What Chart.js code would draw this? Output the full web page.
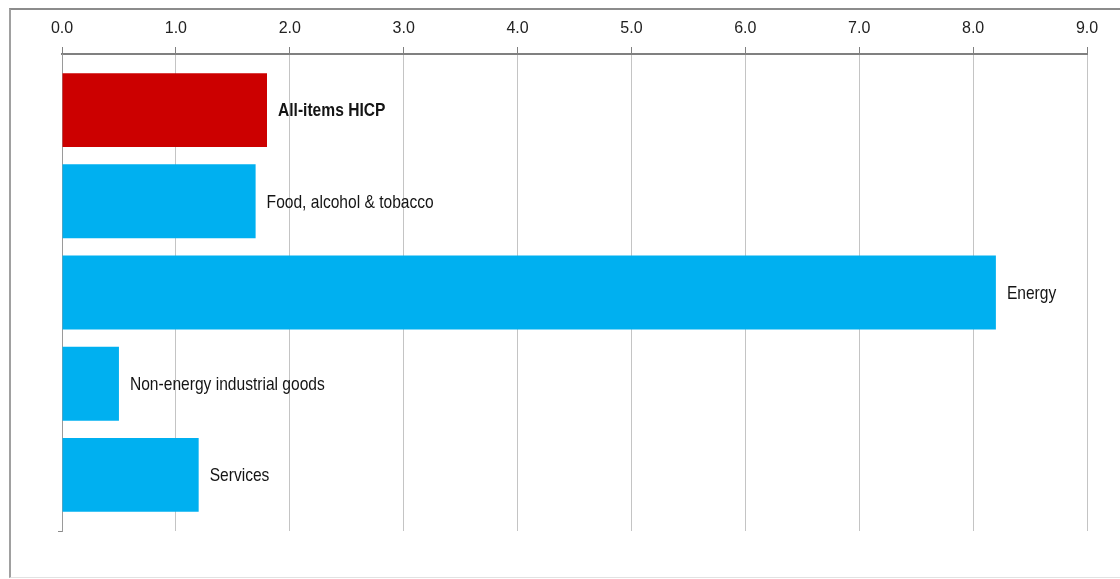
<!DOCTYPE html>
<html>
<head>
<meta charset="utf-8">
<title>HICP components</title>
<script src="https://cdn.jsdelivr.net/npm/chart.js@4/dist/chart.umd.min.js"></script>
<style>
  html,body{margin:0;padding:0;background:#fff;}
  #wrap{position:relative;width:1120px;height:579px;overflow:hidden;}
  #frame{position:absolute;left:9px;top:8px;width:1200px;height:567px;
    border-top:2px solid #8c8c8c;border-left:2px solid #a0a0a0;border-bottom:1px solid #e2e2e2;}
  #chart{position:absolute;left:0;top:0;}
</style>
</head>
<body>
<div id="wrap">
  <div id="frame"></div>
  <canvas id="chart" width="1120" height="579"></canvas>
</div>
<script>
// contributions to annual HICP inflation, percentage points
const categories = ['All-items HICP','Food, alcohol & tobacco','Energy','Non-energy industrial goods','Services'];
const values = [1.8, 1.7, 8.2, 0.5, 1.2];
const barColors = ['#cc0000','#00b0f0','#00b0f0','#00b0f0','#00b0f0'];
const xTicks = [0,1,2,3,4,5,6,7,8,9];

const FONT = '"Liberation Sans",Arial,sans-serif';

// text next to each bar end; headline row in bold.
// squeezed horizontally to get a narrow face out of Liberation Sans
const barLabels = {
  id:'barLabels',
  afterDatasetsDraw(chart){
    const ctx = chart.ctx;
    const meta = chart.getDatasetMeta(0);
    const sx = 0.82;
    ctx.save();
    ctx.fillStyle = '#141414';
    ctx.textBaseline = 'middle';
    ctx.textAlign = 'left';
    meta.data.forEach((bar,i)=>{
      ctx.save();
      ctx.translate(bar.x + 11, bar.y + 1);
      ctx.scale(sx, 1);
      ctx.font = (i===0 ? 'bold ' : '') + '19px ' + FONT;
      ctx.fillText(categories[i], 0, 0);
      ctx.restore();
    });
    ctx.restore();
  }
};

new Chart(document.getElementById('chart'), {
  type:'bar',
  data:{
    datasets:[{
      data: values.map((v,i)=>({x:v, y:i})),
      backgroundColor: barColors,
      borderWidth:0,
      barPercentage:0.81,
      categoryPercentage:1
    }]
  },
  options:{
    indexAxis:'y',
    responsive:false,
    animation:false,
    layout:{padding:{left:52, right:33, top:0, bottom:48}},
    plugins:{legend:{display:false}, tooltip:{enabled:false}},
    scales:{
      x:{
        type:'linear',
        position:'top',
        min:0, max:9,
        afterBuildTicks:(s)=>{ s.ticks = xTicks.map(v=>({value:v})); },
        afterFit:(s)=>{ s.height = 54; },
        ticks:{
          color:'#222',
          padding:9,
          maxRotation:0,
          font:{family:FONT, size:16},
          callback:(v)=>Number(v).toFixed(1)
        },
        grid:{color:'#c4c4c4', lineWidth:1, tickColor:'#808080', tickLength:7, drawOnChartArea:true},
        border:{color:'#808080', width:2}
      },
      y:{
        type:'linear',
        reverse:true,
        offset:false,
        min:-0.615, max:4.615,
        afterBuildTicks:(s)=>{ s.ticks = [{value:s.max}]; },
        afterFit:(s)=>{ s.width = 10; },
        ticks:{display:false},
        grid:{offset:false, drawOnChartArea:false, color:'#8a8a8a', tickLength:4},
        border:{color:'#9a9a9a', width:1}
      }
    }
  },
  plugins:[barLabels]
});
</script>
</body>
</html>
